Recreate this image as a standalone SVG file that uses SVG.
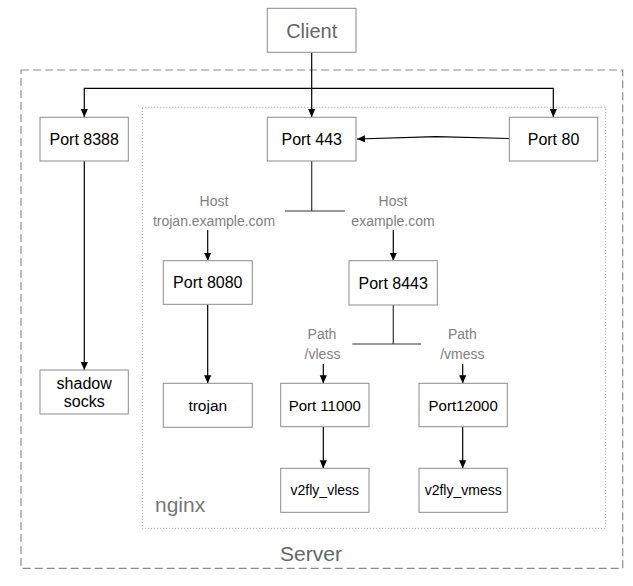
<svg xmlns="http://www.w3.org/2000/svg" width="633" height="586" viewBox="0 0 633 586">
<defs>
<marker id="arr" viewBox="0 0 10 10" refX="10" refY="5" markerWidth="8" markerHeight="8" markerUnits="userSpaceOnUse" orient="auto">
<path d="M0,0.5 L10,5 L0,9.5 Z" fill="#000"/>
</marker>
<style>
.box{fill:#fff;stroke:#8c8c8c;stroke-width:1}
.t{font-family:"Liberation Sans",Arial,Helvetica,sans-serif;fill:#000;text-anchor:middle}
.g{font-family:"Liberation Sans",Arial,Helvetica,sans-serif;fill:#808080;text-anchor:middle;font-size:14px}
.c{fill:none;stroke:#000;stroke-width:1.2}
.bar{fill:none;stroke:#333;stroke-width:1.2}
</style>
</defs>
<rect width="633" height="586" fill="#fff"/>
<g id="server">
<rect x="21" y="70" width="601.7" height="498.3" fill="none" stroke="#8c8c8c" stroke-width="1.2" stroke-dasharray="8 4"/>
<text x="311" y="561" class="t" style="font-size:21px;fill:#666">Server</text>
</g>
<g id="nginx">
<rect x="142.3" y="107.3" width="463.4" height="421" fill="none" stroke="#999" stroke-width="1" stroke-dasharray="1 2"/>
<text x="155" y="512" style="font-family:'Liberation Sans',Arial,sans-serif;font-size:21px;fill:#777">nginx</text>
</g>
<g id="connectors">
<path class="c" d="M311.7,52.3 V117" marker-end="url(#arr)"/>
<path class="c" d="M311.7,88.3 H84.3 V117" marker-end="url(#arr)"/>
<path class="c" d="M311.7,88.3 H553.3 V117" marker-end="url(#arr)"/>
<path class="c" d="M509.3,138.5 L436,136.7 L357,139" marker-end="url(#arr)"/>
<path class="c" d="M84.3,161 V370" marker-end="url(#arr)"/>
<path class="bar" d="M311.7,161 V211 M285,211 H345"/>
<path class="c" d="M207.7,230 V260.7" marker-end="url(#arr)"/>
<path class="c" d="M393.3,230 V260.7" marker-end="url(#arr)"/>
<path class="c" d="M207.7,304.3 V383.3" marker-end="url(#arr)"/>
<path class="bar" d="M393.3,305 V344 M352.3,344 H421"/>
<path class="c" d="M323.3,364 V383.3" marker-end="url(#arr)"/>
<path class="c" d="M462.7,364 V383.3" marker-end="url(#arr)"/>
<path class="c" d="M323.3,426.7 V468.3" marker-end="url(#arr)"/>
<path class="c" d="M462.7,426.7 V468.3" marker-end="url(#arr)"/>
<text x="214" y="206" class="g">Host</text>
<text x="214" y="226" class="g">trojan.example.com</text>
<text x="393" y="206" class="g">Host</text>
<text x="393" y="226" class="g">example.com</text>
<text x="322" y="339" class="g">Path</text>
<text x="322.5" y="359" class="g">/vless</text>
<text x="462.3" y="339" class="g">Path</text>
<text x="462.3" y="359" class="g">/vmess</text>
</g>
<g id="client">
<rect class="box" x="267.3" y="8.3" width="88.7" height="44"/>
<text x="311.7" y="37.5" class="t" style="font-size:20px;fill:#666">Client</text>
</g>
<g id="port8388">
<rect class="box" x="40" y="117.3" width="88.3" height="43.7"/>
<text x="84.2" y="145" class="t" style="font-size:16px">Port 8388</text>
</g>
<g id="port443">
<rect class="box" x="267.3" y="117.3" width="88.7" height="43.7"/>
<text x="311.7" y="145" class="t" style="font-size:16px">Port 443</text>
</g>
<g id="port80">
<rect class="box" x="509.3" y="117.3" width="88.4" height="43.7"/>
<text x="553.5" y="145" class="t" style="font-size:16px">Port 80</text>
</g>
<g id="port8080">
<rect class="box" x="163.3" y="260.7" width="89" height="43.6"/>
<text x="207.8" y="288" class="t" style="font-size:16px">Port 8080</text>
</g>
<g id="port8443">
<rect class="box" x="349" y="260.7" width="88.3" height="44.3"/>
<text x="393.2" y="288.5" class="t" style="font-size:16px">Port 8443</text>
</g>
<g id="shadowsocks">
<rect class="box" x="40" y="370" width="88.3" height="44"/>
<text x="84.2" y="388.5" class="t" style="font-size:16px">shadow</text>
<text x="84.2" y="407" class="t" style="font-size:16px">socks</text>
</g>
<g id="trojan">
<rect class="box" x="163.3" y="383.3" width="89" height="44"/>
<text x="207.8" y="410.5" class="t" style="font-size:15.5px">trojan</text>
</g>
<g id="port11000">
<rect class="box" x="280.7" y="383.3" width="88.3" height="43.4"/>
<text x="324.8" y="410.5" class="t" style="font-size:15px">Port 11000</text>
</g>
<g id="port12000">
<rect class="box" x="419" y="383.3" width="88.3" height="43.4"/>
<text x="463.2" y="410.5" class="t" style="font-size:15px">Port12000</text>
</g>
<g id="v2fly_vless">
<rect class="box" x="280.7" y="468.3" width="88.3" height="44"/>
<text x="324.8" y="495" class="t" style="font-size:14px">v2fly_vless</text>
</g>
<g id="v2fly_vmess">
<rect class="box" x="419" y="468.3" width="88.3" height="44"/>
<text x="463.2" y="495" class="t" style="font-size:14px">v2fly_vmess</text>
</g>
</svg>
